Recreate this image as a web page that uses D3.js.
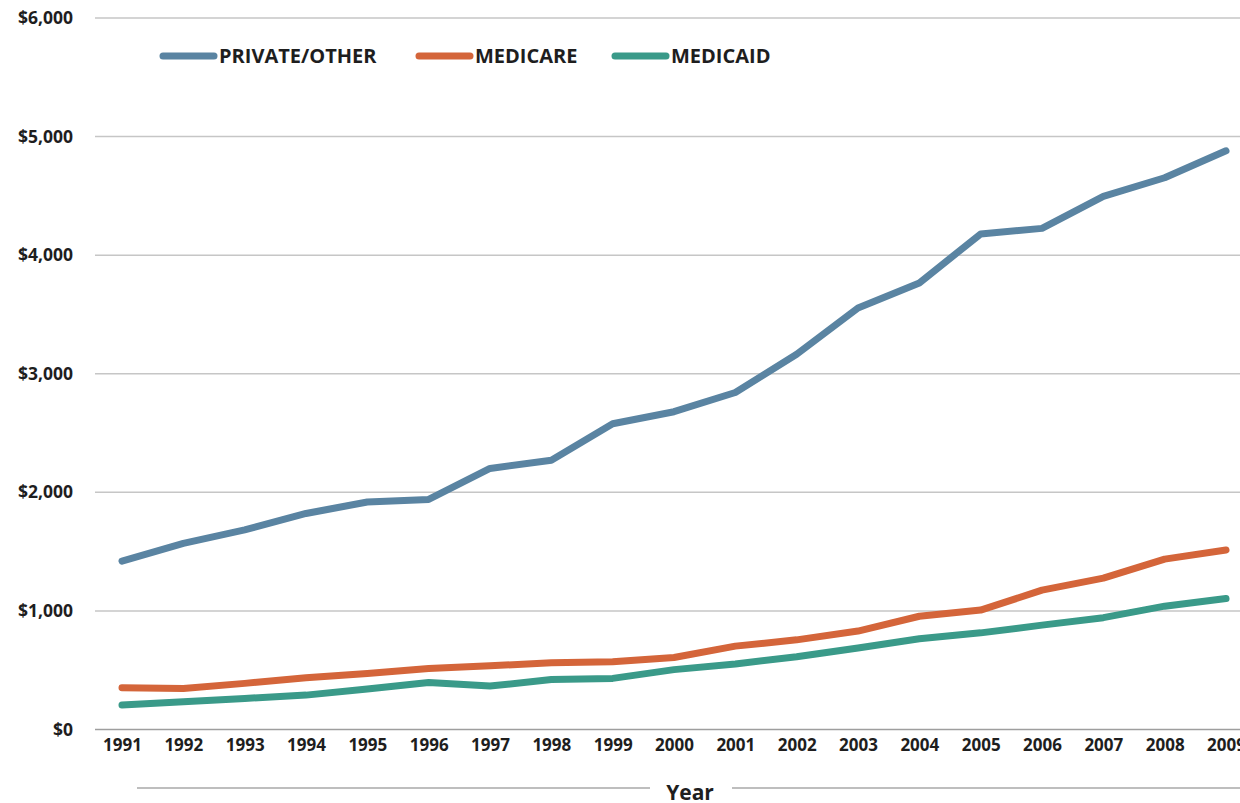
<!DOCTYPE html>
<html>
<head>
<meta charset="utf-8">
<script src="https://cdn.jsdelivr.net/npm/d3@7"></script>
<style>
  html, body { margin: 0; padding: 0; background: #fff; }
  svg { display: block; font-family: "Open Sans", sans-serif; }
</style>
</head>
<body>
<svg id="chart" width="1240" height="803"></svg>
<script>
// data
var years = [1991,1992,1993,1994,1995,1996,1997,1998,1999,2000,2001,2002,2003,2004,2005,2006,2007,2008,2009];
var privateOther = [1420,1569,1683,1822,1918,1940,2201,2271,2578,2680,2842,3164,3555,3766,4179,4226,4496,4653,4880];
var medicare = [352,346,389,436,473,515,537,563,571,607,703,756,830,955,1007,1175,1276,1437,1514];
var medicaid = [206,234,262,290,341,397,366,422,431,505,553,613,688,766,815,880,943,1040,1104];
var yTicks = [0,1000,2000,3000,4000,5000,6000];

var seriesNames = ["PRIVATE/OTHER", "MEDICARE", "MEDICAID"];
var seriesColors = ["#5a84a2", "#d4653a", "#3a9a89"];
var seriesValues = [privateOther, medicare, medicaid];

var svg = d3.select("#chart");

var x = d3.scalePoint().domain(years).range([122, 1226]);
var y = d3.scaleLinear().domain([0, 6000]).range([729.5, 18]);

// gridlines
svg.append("g").selectAll("line")
	.data(yTicks.filter(function(d){ return d > 0; }))
	.enter().append("line")
	.attr("x1", 95).attr("x2", 1240)
	.attr("y1", function(d){ return y(d); })
	.attr("y2", function(d){ return y(d); })
	.style("stroke", "#c6c6c6")
	.style("stroke-width", 1.5);

// baseline
svg.append("line")
	.attr("x1", 95).attr("x2", 1240)
	.attr("y1", y(0)).attr("y2", y(0))
	.style("stroke", "#9e9e9e")
	.style("stroke-width", 1.5);

// y labels
var fmt = d3.format(",");
svg.append("g").selectAll("text")
	.data(yTicks)
	.enter().append("text")
	.attr("x", 73)
	.attr("y", function(d){ return y(d); })
	.attr("dy", "0.35em")
	.attr("text-anchor", "end")
	.style("font-size", "17.5px")
	.style("font-weight", "bold")
	.style("fill", "#1e1e1e")
	.text(function(d){ return "$" + fmt(d); });

// x labels
var xAxis = d3.axisBottom(x).tickSize(0).tickPadding(0);
var xg = svg.append("g")
	.attr("transform", "translate(0," + 739 + ")")
	.call(xAxis);
xg.select(".domain").remove();
xg.selectAll("text")
	.style("font-family", "Open Sans, sans-serif")
	.style("font-size", "17px")
	.style("font-weight", "bold")
	.style("fill", "#1e1e1e");

// axis title with rule either side
svg.append("line").attr("x1", 137).attr("x2", 650).attr("y1", 788).attr("y2", 788)
	.style("stroke", "#a8a8a8").style("stroke-width", 1.5);
svg.append("line").attr("x1", 732).attr("x2", 1240).attr("y1", 788).attr("y2", 788)
	.style("stroke", "#a8a8a8").style("stroke-width", 1.5);
svg.append("text")
	.attr("x", 690).attr("y", 800)
	.attr("text-anchor", "middle")
	.style("font-size", "21px")
	.style("font-weight", "bold")
	.style("fill", "#1e1e1e")
	.text("Year");

// lines
var line = d3.line()
	.x(function(d, i){ return x(years[i]); })
	.y(function(d){ return y(d); });

seriesValues.forEach(function(vals, k){
	svg.append("path")
		.datum(vals)
		.attr("d", line)
		.style("fill", "none")
		.style("stroke", seriesColors[k])
		.style("stroke-width", 7)
		.style("stroke-linecap", "round")
		.style("stroke-linejoin", "round");
});

// legend
var legendX = [163, 419, 615];
var legend = svg.append("g").selectAll("g")
	.data(seriesNames)
	.enter().append("g")
	.attr("transform", function(d, i){ return "translate(" + legendX[i] + ",56)"; });
legend.append("line")
	.attr("x1", 0).attr("x2", 51)
	.style("stroke", function(d, i){ return seriesColors[i]; })
	.style("stroke-width", 7)
	.style("stroke-linecap", "round");
legend.append("text")
	.attr("x", 56)
	.attr("dy", "0.35em")
	.style("font-size", "20px")
	.style("font-weight", "bold")
	.style("fill", "#1e1e1e")
	.text(function(d){ return d; });
</script>
</body>
</html>
